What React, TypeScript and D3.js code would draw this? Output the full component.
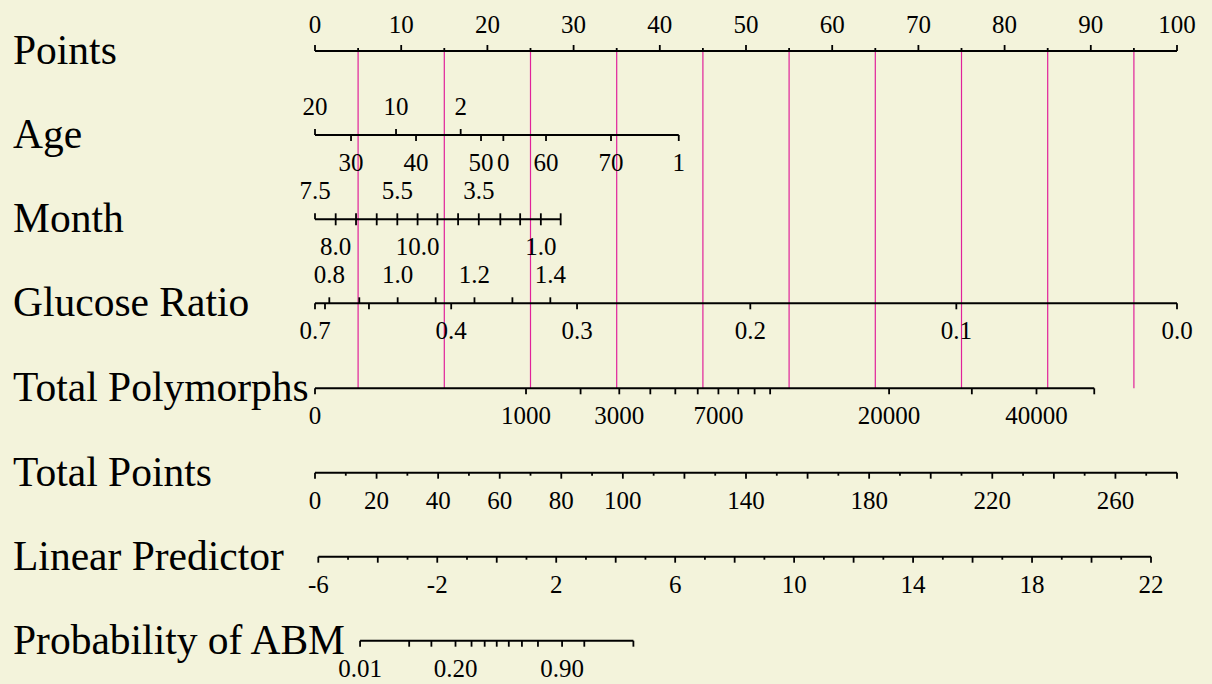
import React from 'react';
import * as d3 from 'd3';

const W = 1212;
const H = 684;
const FONT = '"Liberation Serif", "Times New Roman", Times, serif';
const BG = '#F3F3DB';
const PINK = '#E0219A';

// ---- Points axis ----
const pointsMajor = [0, 10, 20, 30, 40, 50, 60, 70, 80, 90, 100];
const pointsMinor = [5, 15, 25, 35, 45, 55, 65, 75, 85, 95];
const refLinePoints = [5, 15, 25, 35, 45, 55, 65, 75, 85, 95];

// ---- Age ----
const ageTopLabels = ['20', '10', '2'];
const ageTopPoints = [0, 9.4, 16.9];
const ageBottomLabels = ['30', '40', '50', '0', '60', '70', '1'];
const ageBottomPoints = [4.18, 11.72, 19.26, 21.85, 26.8, 34.34, 42.2];

// ---- Month ----
const monthTickPoints = [0, 2.4, 4.76, 7.16, 9.55, 11.9, 14.2, 16.6, 19.0, 21.5, 23.8, 26.2, 28.5];
const monthTopLabels = ['7.5', '5.5', '3.5'];
const monthTopPoints = [0, 9.55, 19.0];
const monthBottomLabels = ['8.0', '10.0', '1.0'];
const monthBottomPoints = [2.4, 11.9, 26.2];

// ---- Glucose Ratio ----
const glucoseTopValues = [0.8, 0.9, 1.0, 1.1, 1.2, 1.3, 1.4];
const glucoseTopPoints = [1.66, 5.14, 9.59, 14.0, 18.5, 22.9, 27.3];
const glucoseTopLabeled = ['0.8', '1.0', '1.2', '1.4'];
const glucoseBottomValues = [0.7, 0.6, 0.5, 0.4, 0.3, 0.2, 0.1, 0.0];
const glucoseBottomPoints = [0, 1.16, 6.26, 15.8, 30.4, 50.5, 74.4, 100];
const glucoseBottomLabeled = ['0.7', '0.4', '0.3', '0.2', '0.1', '0.0'];

// ---- Total Polymorphs ----
const polyValues = [0, 1000, 2000, 3000, 4000, 5000, 6000, 7000, 8000, 9000, 10000, 20000, 30000, 40000, 50000];
const polyPoints = [0, 24.48, 30.81, 35.3, 38.9, 41.8, 44.4, 46.8, 49.1, 51.0, 52.8, 66.6, 76.2, 83.7, 90.4];
const polyLabeled = [0, 1000, 3000, 7000, 20000, 40000];

// ---- Total Points ----
const totalMajor = [0, 20, 40, 60, 80, 100, 120, 140, 160, 180, 200, 220, 240, 260, 280];
const totalMinor = [10, 30, 50, 70, 90, 110, 130, 150, 170, 190, 210, 230, 250, 270];
const totalLabeled = [0, 20, 40, 60, 80, 100, 140, 180, 220, 260];

// ---- Linear Predictor ----
const lpMajor = [-6, -4, -2, 0, 2, 4, 6, 8, 10, 12, 14, 16, 18, 20, 22];
const lpMinor = [-5, -3, -1, 1, 3, 5, 7, 9, 11, 13, 15, 17, 19, 21];
const lpLabeled = [-6, -2, 2, 6, 10, 14, 18, 22];

// ---- Probability ----
const probTicks = [0.01, 0.05, 0.1, 0.2, 0.3, 0.4, 0.5, 0.6, 0.7, 0.8, 0.9, 0.95, 0.99];
const probLabeled = [0.01, 0.2, 0.9];

const rowNames = ['Points', 'Age', 'Month', 'Glucose Ratio', 'Total Polymorphs', 'Total Points', 'Linear Predictor', 'Probability of ABM'];
const rowY = [51, 135, 219.3, 303.3, 388.3, 472.7, 556.7, 640.7];

type Tick = { x: number; dir: 'up' | 'down' | 'both'; len: number };
type Lab = { x: number; text: string; pos: 'top' | 'bottom' };

function Axis({ y, x0, x1, ticks, labels, topOff = -20 }: { y: number; x0: number; x1: number; ticks: Tick[]; labels: Lab[]; topOff?: number }) {
  return (
    <g>
      <line x1={x0} x2={x1} y1={y} y2={y} stroke="#000" strokeWidth={2} />
      {ticks.map((t, i) => (
        <line
          key={'t' + i}
          x1={t.x}
          x2={t.x}
          y1={t.dir === 'down' ? y : y - t.len}
          y2={t.dir === 'up' ? y : y + t.len}
          stroke="#000"
          strokeWidth={1.8}
        />
      ))}
      {labels.map((l, i) => (
        <text
          key={'l' + i}
          x={l.x}
          y={l.pos === 'top' ? y + topOff : y + 36}
          textAnchor="middle"
          fontSize={25}
          fontFamily={FONT}
          fill="#000"
        >
          {l.text}
        </text>
      ))}
    </g>
  );
}

export default function App() {
  const px = d3.scaleLinear().domain([0, 100]).range([315, 1177]);
  const tot = d3.scaleLinear().domain([0, 280]).range([315, 1177]);
  const lp = d3.scaleLinear().domain([-6, 22]).range([318.3, 1151]);
  const logit = (p: number) => Math.log(p / (1 - p));
  const probX = (p: number) => lp(logit(p));

  const MAJ = 6;
  const MIN = 3;

  const pointsTicks: Tick[] = [
    ...pointsMajor.map((v) => ({ x: px(v), dir: 'up' as const, len: MAJ })),
    ...pointsMinor.map((v) => ({ x: px(v), dir: 'up' as const, len: MIN })),
  ];
  const pointsLabels: Lab[] = pointsMajor.map((v) => ({ x: px(v), text: String(v), pos: 'top' }));

  const ageTicks: Tick[] = [
    ...ageTopPoints.map((p) => ({ x: px(p), dir: 'up' as const, len: MAJ })),
    ...ageBottomPoints.map((p) => ({ x: px(p), dir: 'down' as const, len: MAJ })),
  ];
  const ageLabels: Lab[] = [
    ...ageTopLabels.map((t, i) => ({ x: px(ageTopPoints[i]), text: t, pos: 'top' as const })),
    ...ageBottomLabels.map((t, i) => ({ x: px(ageBottomPoints[i]), text: t, pos: 'bottom' as const })),
  ];

  const monthTicks: Tick[] = monthTickPoints.map((p, i) => ({ x: px(p), dir: i === 0 ? 'up' : 'both', len: MAJ }));
  const monthLabels: Lab[] = [
    ...monthTopLabels.map((t, i) => ({ x: px(monthTopPoints[i]), text: t, pos: 'top' as const })),
    ...monthBottomLabels.map((t, i) => ({ x: px(monthBottomPoints[i]), text: t, pos: 'bottom' as const })),
  ];

  const glucoseTicks: Tick[] = [
    ...glucoseTopPoints.map((p) => ({ x: px(p), dir: 'up' as const, len: MAJ })),
    ...glucoseBottomPoints.map((p) => ({ x: px(p), dir: 'down' as const, len: MAJ })),
  ];
  const glucoseLabels: Lab[] = [
    ...glucoseTopValues
      .map((v, i) => ({ v, i }))
      .filter(({ v }) => glucoseTopLabeled.includes(v.toFixed(1)))
      .map(({ v, i }) => ({ x: px(glucoseTopPoints[i]), text: v.toFixed(1), pos: 'top' as const })),
    ...glucoseBottomValues
      .map((v, i) => ({ v, i }))
      .filter(({ v }) => glucoseBottomLabeled.includes(v.toFixed(1)))
      .map(({ v, i }) => ({ x: px(glucoseBottomPoints[i]), text: v.toFixed(1), pos: 'bottom' as const })),
  ];

  const polyTicks: Tick[] = polyPoints.map((p) => ({ x: px(p), dir: 'down', len: MAJ }));
  const polyLabels: Lab[] = polyValues
    .map((v, i) => ({ v, i }))
    .filter(({ v }) => polyLabeled.includes(v))
    .map(({ v, i }) => ({ x: px(polyPoints[i]), text: String(v), pos: 'bottom' }));

  const totalTicks: Tick[] = [
    ...totalMajor.map((v) => ({ x: tot(v), dir: 'down' as const, len: MAJ })),
    ...totalMinor.map((v) => ({ x: tot(v), dir: 'down' as const, len: MIN })),
  ];
  const totalLabels: Lab[] = totalLabeled.map((v) => ({ x: tot(v), text: String(v), pos: 'bottom' }));

  const lpTicks: Tick[] = [
    ...lpMajor.map((v) => ({ x: lp(v), dir: 'down' as const, len: MAJ })),
    ...lpMinor.map((v) => ({ x: lp(v), dir: 'down' as const, len: MIN })),
  ];
  const lpLabels: Lab[] = lpLabeled.map((v) => ({ x: lp(v), text: String(v), pos: 'bottom' }));

  const probTickObjs: Tick[] = probTicks.map((p) => ({ x: probX(p), dir: 'down', len: MAJ }));
  const probLabels: Lab[] = probLabeled.map((p) => ({ x: probX(p), text: p.toFixed(2), pos: 'bottom' }));

  const polyEnd = px(polyPoints[polyPoints.length - 1]);

  return (
    <svg
      width={W}
      height={H}
      viewBox={`0 0 ${W} ${H}`}
      style={{ position: 'absolute', left: 0, top: 0, display: 'block' }}
    >
      <rect x={0} y={0} width={W} height={H} fill={BG} />

      {rowNames.map((n, i) => (
        <text key={n} x={13} y={rowY[i] + 13} fontSize={41.5} fontFamily={FONT} fill="#000">
          {n}
        </text>
      ))}

      {refLinePoints.map((p) => (
        <line key={'ref' + p} x1={px(p)} x2={px(p)} y1={rowY[0]} y2={rowY[4]} stroke={PINK} strokeWidth={1.2} />
      ))}

      <Axis y={rowY[0]} x0={px(0)} x1={px(100)} ticks={pointsTicks} labels={pointsLabels} topOff={-18.5} />
      <Axis y={rowY[1]} x0={px(0)} x1={px(d3.max(ageBottomPoints)!)} ticks={ageTicks} labels={ageLabels} />
      <Axis y={rowY[2]} x0={px(0)} x1={px(d3.max(monthTickPoints)!)} ticks={monthTicks} labels={monthLabels} />
      <Axis y={rowY[3]} x0={px(0)} x1={px(100)} ticks={glucoseTicks} labels={glucoseLabels} />
      <Axis y={rowY[4]} x0={px(0)} x1={polyEnd} ticks={polyTicks} labels={polyLabels} />
      <Axis y={rowY[5]} x0={tot(0)} x1={tot(280)} ticks={totalTicks} labels={totalLabels} />
      <Axis y={rowY[6]} x0={lp(-6)} x1={lp(22)} ticks={lpTicks} labels={lpLabels} />
      <Axis y={rowY[7]} x0={probX(0.01)} x1={probX(0.99)} ticks={probTickObjs} labels={probLabels} />
    </svg>
  );
}
